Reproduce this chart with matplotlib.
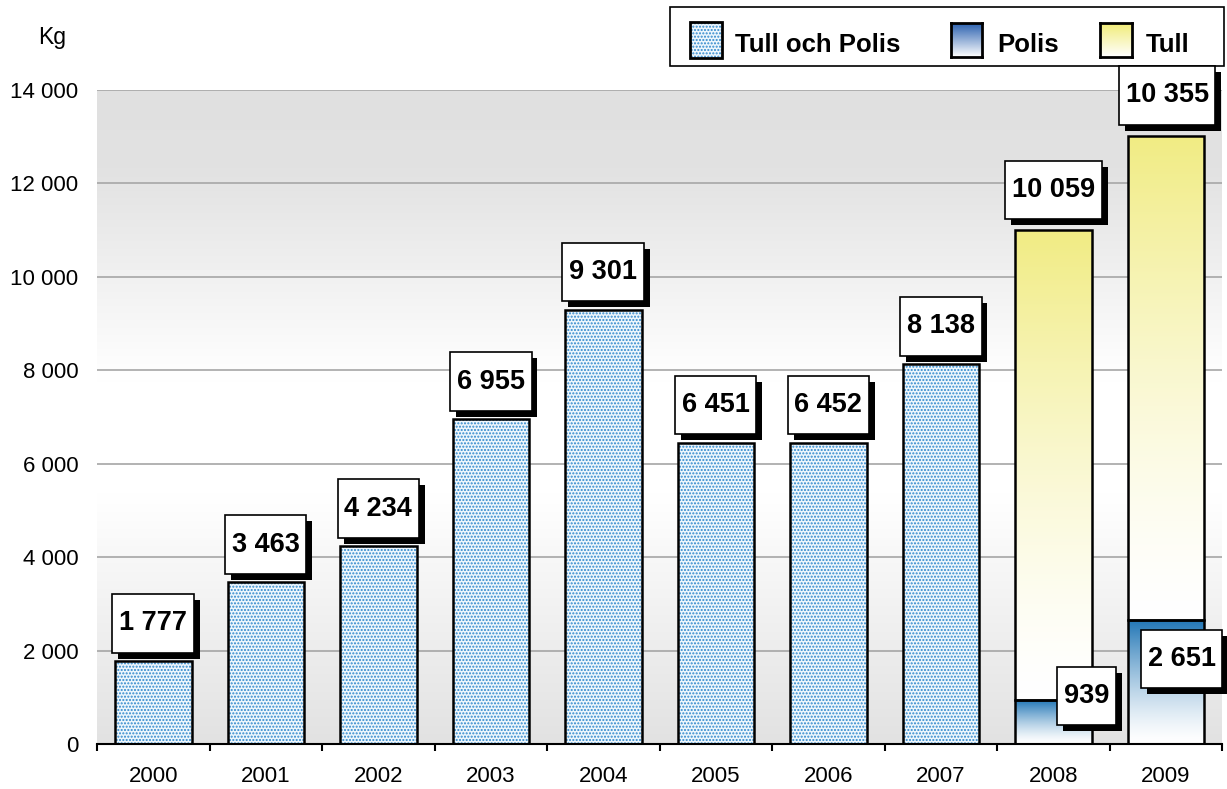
import numpy as np
import matplotlib.pyplot as plt
import matplotlib.patheffects as pe
from matplotlib.colors import LinearSegmentedColormap
from matplotlib.patches import Rectangle
from matplotlib.path import Path

plt.rcParams['font.family'] = ['Liberation Sans', 'DejaVu Sans']

# data
years = ['2000', '2001', '2002', '2003', '2004', '2005', '2006', '2007', '2008', '2009']
tull_och_polis = [1777, 3463, 4234, 6955, 9301, 6451, 6452, 8138]   # 2000-2007
polis = [939, 2651]                                                  # 2008-2009
tull = [10059, 10355]                                                # 2008-2009
y_ticks = [0, 2000, 4000, 6000, 8000, 10000, 12000, 14000]


def fmt(v):
    return f'{v:,}'.replace(',', ' ')


def label_box(x0, y0, width, height, mutation_size):
    px = 0.25 * mutation_size
    py = 0.6 * mutation_size
    x0, y0 = x0 - px, y0 - py
    x1, y1 = x0 + width + 2 * px, y0 + height + 2 * py
    return Path([(x0, y0), (x1, y0), (x1, y1), (x0, y1), (x0, y0)], closed=True)


fig = plt.figure(figsize=(12.27, 7.89), dpi=100)
ax = fig.add_axes([97 / 1227, 45 / 789, 1125 / 1227, 654 / 789])

xs = np.arange(len(years))
bw = 0.68

# bakgrund med gradient
bg_cmap = LinearSegmentedColormap.from_list('bg', [(0, '#e2e2e2'), (0.38, '#ffffff'), (0.56, '#ffffff'),
                                                   (0.88, '#e2e2e2'), (1, '#e0e0e0')])
ax.imshow(np.linspace(0, 1, 256).reshape(-1, 1), extent=(-0.5, 9.5, 0, 14000), origin='lower',
          cmap=bg_cmap, aspect='auto', zorder=0, interpolation='bicubic')

for yt in y_ticks[1:]:
    ax.axhline(yt, color='#a6a6a6', lw=1.2, zorder=1)

# Tull och Polis (prickiga staplar)
ax.bar(xs[:8], tull_och_polis, width=bw, color='#eef6fc', edgecolor='#2f88cc', hatch='.....', lw=0, zorder=3)
ax.bar(xs[:8], tull_och_polis, width=bw, fill=False, edgecolor='black', lw=1.8, zorder=4)


def grad_bar(x, bottom, height, color):
    cmap = LinearSegmentedColormap.from_list('g', ['white', color])
    g = np.linspace(0, 1, 256).reshape(-1, 1) ** 1.4
    ax.imshow(g, extent=(x - bw / 2, x + bw / 2, bottom, bottom + height), origin='lower',
              cmap=cmap, aspect='auto', zorder=3, interpolation='bicubic')
    ax.add_patch(Rectangle((x - bw / 2, bottom), bw, height, fc='none', ec='black', lw=1.8, zorder=4))


for i, (p, t) in enumerate(zip(polis, tull)):
    grad_bar(xs[8 + i], 0, p, '#2377b6')
    grad_bar(xs[8 + i], p, t, '#f1ec84')


def put_label(x, y, value, dx, dy):
    t = ax.annotate(fmt(value), xy=(x, y), xytext=(dx, dy), textcoords='offset points',
                    ha='center', va='center', fontsize=19.5, fontweight='bold', color='black',
                    annotation_clip=False, zorder=6,
                    bbox=dict(boxstyle=label_box, fc='white', ec='black', lw=1.2))
    t.get_bbox_patch().set_path_effects([
        pe.SimplePatchShadow(offset=(4.3, -4.3), shadow_rgbFace='black', alpha=1.0),
        pe.Normal()])


for x, v in zip(xs[:8], tull_och_polis):
    put_label(x, v, v, 0, 27)
put_label(xs[8], polis[0] + tull[0], tull[0], 0, 29)
put_label(xs[9], polis[1] + tull[1], tull[1], 1, 29.5)
put_label(xs[8], polis[0], polis[0], 24, 3)
put_label(xs[9], polis[1], polis[1], 11.5, -28)

ax.set_xlim(-0.5, 9.5)
ax.set_ylim(0, 14000)
ax.set_yticks(y_ticks)
ax.set_yticklabels([fmt(v) for v in y_ticks], fontsize=16)
ax.tick_params(axis='y', length=0, pad=13.5)
ax.set_xticks(xs)
ax.set_xticklabels(years, fontsize=16)
ax.set_xticks(np.arange(-0.5, 10, 1), minor=True)
ax.tick_params(axis='x', which='major', length=0, pad=16)
ax.tick_params(axis='x', which='minor', length=5, width=1.5, direction='out')
for s in ['top', 'right', 'left']:
    ax.spines[s].set_visible(False)
ax.spines['bottom'].set_linewidth(1.5)
ax.spines['bottom'].set_zorder(7)

fig.text(38 / 1227, 1 - 44 / 789, 'Kg', fontsize=16.5, ha='left', va='baseline')

# legend
W, H = 1227, 789


def fbox(x0, y0, x1, y1):
    return (x0 / W, 1 - y1 / H), (x1 - x0) / W, (y1 - y0) / H


xy, w, h = fbox(670, 7, 1224, 66)
fig.add_artist(Rectangle(xy, w, h, transform=fig.transFigure, fc='white', ec='black', lw=1.2, zorder=-1))

xy, w, h = fbox(690, 22, 722, 58)
fig.add_artist(Rectangle(xy, w, h, transform=fig.transFigure, fc='#eef6fc', ec='#2f88cc',
                         hatch='.....', lw=0, zorder=2))
fig.add_artist(Rectangle(xy, w, h, transform=fig.transFigure, fill=False, ec='black', lw=2, zorder=3))

for (x0, x1), col in [((951, 982), '#2c62b0'), ((1100, 1132), '#f1ec78')]:
    xy, w, h = fbox(x0, 23, x1, 57)
    lax = fig.add_axes([xy[0], xy[1], w, h])
    lax.set_zorder(5)
    lax.imshow(np.linspace(0, 1, 64).reshape(-1, 1), origin='lower', aspect='auto',
               cmap=LinearSegmentedColormap.from_list('l', ['white', col]))
    lax.set_xticks([])
    lax.set_yticks([])
    for s in lax.spines.values():
        s.set_linewidth(2)

for x0, txt in [(735, 'Tull och Polis'), (997, 'Polis'), (1146, 'Tull')]:
    fig.text(x0 / W, 1 - 52 / H, txt, fontsize=18.5, fontweight='bold', ha='left', va='baseline')

fig.savefig('out.png', dpi=100)
